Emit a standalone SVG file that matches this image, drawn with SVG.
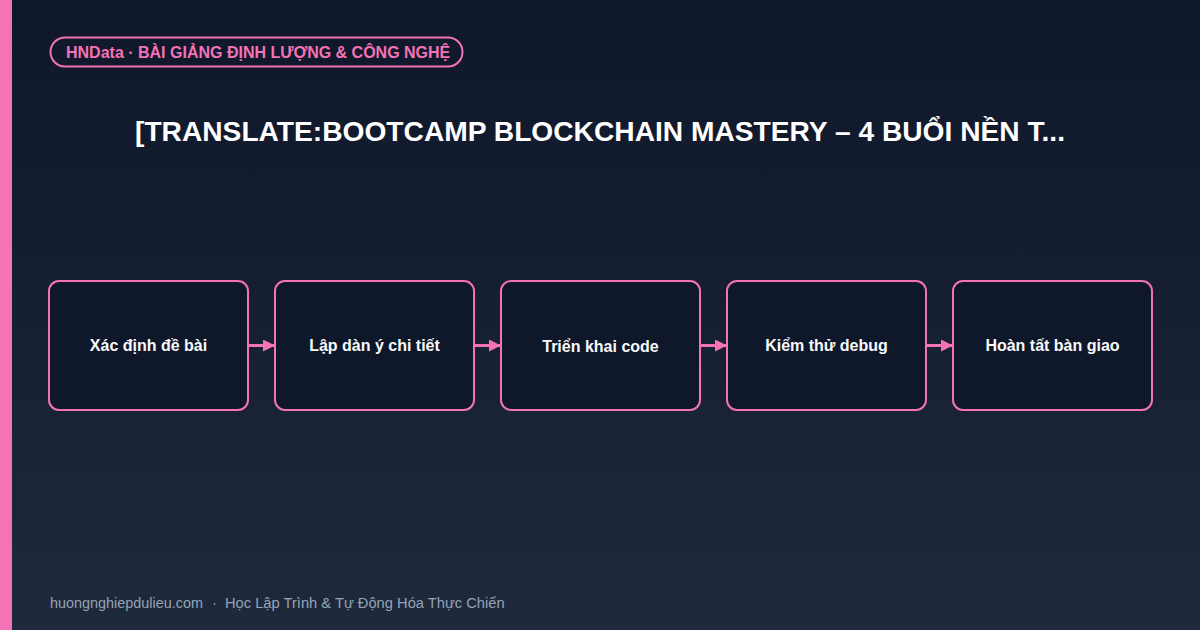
<svg xmlns="http://www.w3.org/2000/svg" width="1200" height="630" viewBox="0 0 1200 630">
<defs>
<linearGradient id="bg" x1="0" y1="0" x2="0" y2="1">
<stop offset="0" stop-color="#0f172a"/>
<stop offset="1" stop-color="#1e293b"/>
</linearGradient>
<marker id="ah" markerWidth="12" markerHeight="12" refX="12" refY="6" orient="auto" markerUnits="userSpaceOnUse">
<path d="M0,0 L12,6 L0,12 Z" fill="#f472b6"/>
</marker>
<style>
.box{fill:#0f172a;stroke:#f472b6;stroke-width:2}
.lbl{font-family:"Liberation Sans",Arial,sans-serif;font-weight:bold;font-size:16px;fill:#f8fafc;text-anchor:middle}
.con{stroke:#f472b6;stroke-width:3;fill:none}
.ft{font-family:"Liberation Sans",Arial,sans-serif;font-size:14.7px;fill:#94a3b8}
</style>
</defs>
<rect width="1200" height="630" fill="url(#bg)"/>
<rect x="0" y="0" width="12" height="630" fill="#f472b6"/>
<g id="badge">
<rect x="50.5" y="37.5" width="412" height="29" rx="14.5" fill="none" stroke="#f472b6" stroke-width="2"/>
<text x="66" y="57.5" font-family="Liberation Sans,Arial,sans-serif" font-weight="bold" font-size="16" fill="#f472b6">HNData · BÀI GIẢNG ĐỊNH LƯỢNG &amp; CÔNG NGHỆ</text>
</g>
<g id="title">
<text x="600" y="141" font-family="Liberation Sans,Arial,sans-serif" font-weight="bold" font-size="28" fill="#ffffff" text-anchor="middle" textLength="930" lengthAdjust="spacingAndGlyphs">[TRANSLATE:BOOTCAMP BLOCKCHAIN MASTERY – 4 BUỔI NỀN T...</text>
</g>
<g id="connectors">
<line class="con" x1="248" y1="345.5" x2="275" y2="345.5" marker-end="url(#ah)"/>
<line class="con" x1="474" y1="345.5" x2="501" y2="345.5" marker-end="url(#ah)"/>
<line class="con" x1="700" y1="345.5" x2="727" y2="345.5" marker-end="url(#ah)"/>
<line class="con" x1="926" y1="345.5" x2="953" y2="345.5" marker-end="url(#ah)"/>
</g>
<g id="n1"><rect class="box" x="49" y="281" width="199" height="129" rx="10"/><text class="lbl" x="148.5" y="351">Xác định đề bài</text></g>
<g id="n2"><rect class="box" x="275" y="281" width="199" height="129" rx="10"/><text class="lbl" x="374.5" y="351">Lập dàn ý chi tiết</text></g>
<g id="n3"><rect class="box" x="501" y="281" width="199" height="129" rx="10"/><text class="lbl" x="600.5" y="352">Triển khai code</text></g>
<g id="n4"><rect class="box" x="727" y="281" width="199" height="129" rx="10"/><text class="lbl" x="826.5" y="351">Kiểm thử debug</text></g>
<g id="n5"><rect class="box" x="953" y="281" width="199" height="129" rx="10"/><text class="lbl" x="1052.5" y="351">Hoàn tất bàn giao</text></g>
<g id="footer">
<text class="ft" x="50" y="608" textLength="153" lengthAdjust="spacingAndGlyphs">huongnghiepdulieu.com</text>
<text class="ft" x="212" y="608">·</text>
<text class="ft" x="225" y="608">Học Lập Trình &amp; Tự Động Hóa Thực Chiến</text>
</g>
</svg>
